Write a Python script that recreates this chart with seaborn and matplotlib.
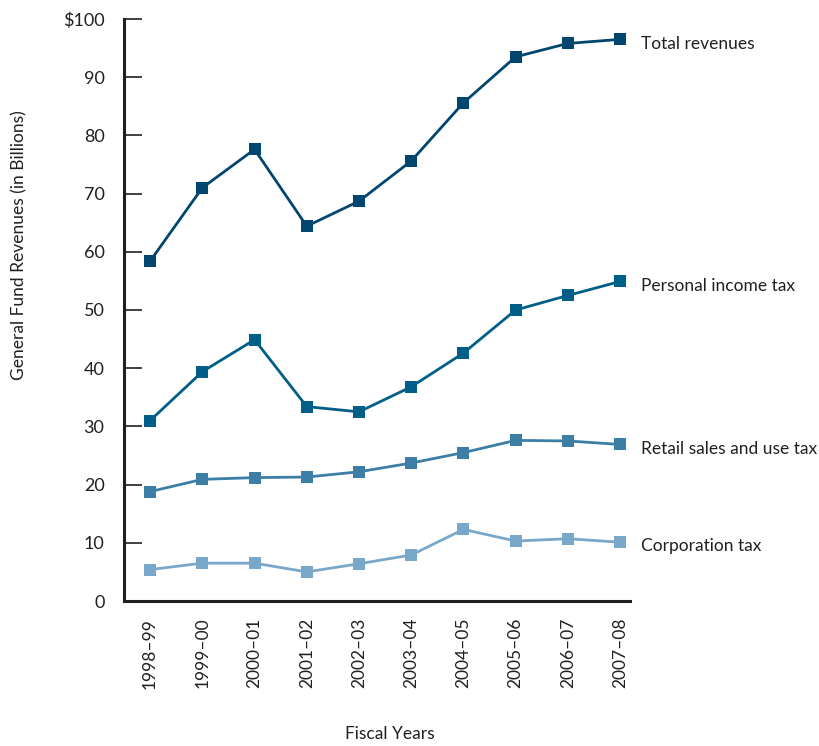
import matplotlib
matplotlib.use("Agg")
import matplotlib.pyplot as plt
import seaborn as sns
import pandas as pd

years = ["1998–99", "1999–00", "2000–01", "2001–02", "2002–03",
         "2003–04", "2004–05", "2005–06", "2006–07", "2007–08"]
total_revenues = [58.4, 71.0, 77.6, 64.4, 68.7, 75.6, 85.6, 93.5, 95.8, 96.5]
personal_income_tax = [31.0, 39.4, 44.9, 33.4, 32.5, 36.8, 42.6, 50.0, 52.5, 54.9]
retail_sales_tax = [18.8, 20.9, 21.2, 21.3, 22.2, 23.7, 25.5, 27.6, 27.5, 26.9]
corporation_tax = [5.4, 6.5, 6.5, 5.0, 6.4, 7.9, 12.3, 10.3, 10.7, 10.1]

series_names = ["Total revenues", "Personal income tax",
                "Retail sales and use tax", "Corporation tax"]
series_values = [total_revenues, personal_income_tax, retail_sales_tax, corporation_tax]
colors = ["#00466e", "#005f88", "#3d7ea6", "#79a7c9"]

rows = []
for name, vals in zip(series_names, series_values):
    for i, v in enumerate(vals):
        rows.append({"idx": i, "year": years[i], "value": v, "series": name})
df = pd.DataFrame(rows)

sns.set_style("white")
plt.rcParams["font.family"] = ["Lato", "DejaVu Sans"]
text_color = "#231f20"

fig = plt.figure(figsize=(8.2, 7.46), dpi=100)
ax = fig.add_axes([124/820, 1-601/746, (630-124)/820, (601-19)/746])

sns.lineplot(data=df, x="idx", y="value", hue="series", hue_order=series_names,
             palette=colors, marker="s", markersize=8, markeredgewidth=0,
             linewidth=2.0, dashes=False, legend=False, ax=ax)

for name, vals, c in zip(series_names, series_values, colors):
    ax.annotate(name, xy=(9.4, vals[-1]), xytext=(0, -3), textcoords="offset points",
                va="center", ha="left", fontsize=12.5, color=text_color,
                annotation_clip=False)

ax.set_xlim(-0.5, 9.19)
ax.set_ylim(0, 100)
ax.set_yticks(range(0, 101, 10))
ax.set_yticklabels(["0"] + [str(v) for v in range(10, 100, 10)] + ["$100"])
ax.set_xticks(range(len(years)))
ax.set_xticklabels(years, rotation=90)

for s in ["top", "right"]:
    ax.spines[s].set_visible(False)
for s in ["left", "bottom"]:
    ax.spines[s].set_color(text_color)
    ax.spines[s].set_linewidth(2.2)

ax.tick_params(axis="y", direction="in", length=13, width=1.2, color=text_color,
               pad=14, labelsize=13, labelcolor=text_color, left=True)
ax.tick_params(axis="x", length=0, pad=12, labelsize=12.5, labelcolor=text_color)

ax.set_xlabel("Fiscal Years", fontsize=12.5, color=text_color)
ax.set_ylabel("General Fund Revenues (in Billions)", fontsize=12.5,
              color=text_color)
ax.xaxis.set_label_coords((390-124)/506, -(726-601)/582)
ax.yaxis.set_label_coords(-(124-27)/506, (601-245)/582)
ax.patch.set_alpha(0)

fig.savefig("out.png", dpi=100, facecolor="white")
